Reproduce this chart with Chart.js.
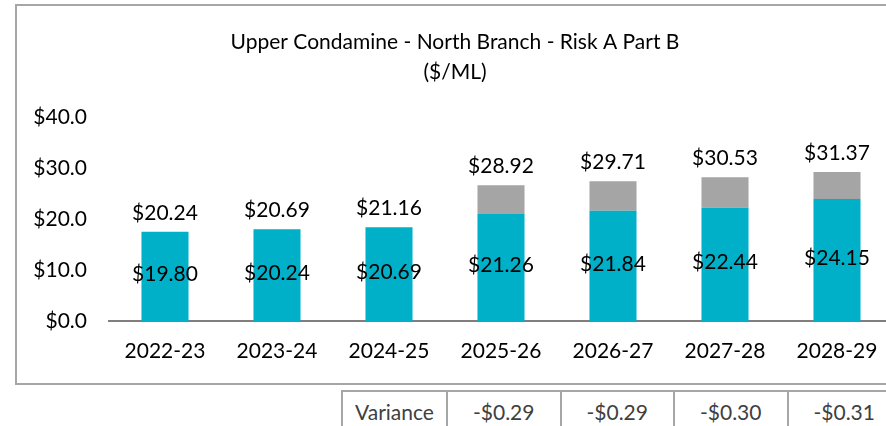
<!DOCTYPE html>
<html>
<head>
<meta charset="utf-8">
<script src="https://cdn.jsdelivr.net/npm/chart.js@4.4.0/dist/chart.umd.min.js"></script>
<style>
  body { margin: 0; overflow: hidden; background: #fff; font-family: Lato, sans-serif; }
  #box { position: absolute; left: 15px; top: 4px; width: 906px; height: 377px; border: 2px solid #a6a6a6; }
  #varTable { position: absolute; top: 390px; left: 341px; display: flex; }
  .cell { height: 40px; line-height: 40px; text-align: center; font-size: 21px; color: #404040;
          border-top: 2px solid #a6a6a6; border-left: 2px solid #a6a6a6; }
</style>
</head>
<body>
<div id="box"><canvas id="waterChart" width="906" height="377"></canvas></div>
<div id="varTable"></div>
<script>
const categories = ["2022-23", "2023-24", "2024-25", "2025-26", "2026-27", "2027-28", "2028-29"];
const baseValues = [17.5, 18.0, 18.4, 21.0, 21.6, 22.2, 23.9];
const extraValues = [0, 0, 0, 5.6, 5.8, 6.0, 5.3];
const topLabels = ["$20.24", "$20.69", "$21.16", "$28.92", "$29.71", "$30.53", "$31.37"];
const innerLabels = ["$19.80", "$20.24", "$20.69", "$21.26", "$21.84", "$22.44", "$24.15"];
const yTicks = [0, 10, 20, 30, 40];
const varianceYears = ["2025-26", "2026-27", "2027-28", "2028-29"];
const varianceValues = ["-$0.29", "-$0.29", "-$0.30", "-$0.31"];

// value labels on the bars
const barLabels = {
	id: "barLabels",
	afterDatasetsDraw(chart) {
		const ctx = chart.ctx;
		const base = chart.getDatasetMeta(0);
		const extra = chart.getDatasetMeta(1);
		ctx.save();
		ctx.font = "21px Lato";
		ctx.fillStyle = "#000";
		ctx.textAlign = "center";
		ctx.textBaseline = "middle";
		base.data.forEach(function(bar, i){
			ctx.fillText(innerLabels[i], bar.x, (bar.y + bar.base) / 2 - 2);
			let top = extraValues[i] > 0 ? extra.data[i].y : bar.y;
			ctx.fillText(topLabels[i], bar.x, top - 19);
		});
		ctx.restore();
	}
};

const chart = new Chart("waterChart", {
	type: "bar",
	data: {
		labels: categories,
		datasets: [
			{ data: baseValues, backgroundColor: "#00afc8" },
			{ data: extraValues, backgroundColor: "#a5a5a5" }
		]
	},
	options: {
		responsive: false,
		animation: false,
		categoryPercentage: 1,
		barPercentage: 0.42,
		layout: { padding: { left: 0, right: 30, top: 0, bottom: 12 } },
		plugins: {
			legend: { display: false },
			tooltip: { enabled: false },
			title: {
				display: true,
				text: ["Upper Condamine - North Branch - Risk A Part B", "($/ML)"],
				color: "#000",
				font: { family: "Lato", size: 21, weight: "normal", lineHeight: "30px" },
				padding: { top: 21, bottom: 30 }
			}
		},
		scales: {
			x: {
				stacked: true,
				grid: { display: false, drawTicks: false },
				border: { display: true, color: "#7f7f7f", width: 2 },
				ticks: { color: "#000", padding: 18, font: { family: "Lato", size: 21 } },
				afterFit: function(scale){ scale.height = 50; }
			},
			y: {
				stacked: true,
				min: 0,
				max: 40,
				grid: { display: false, drawTicks: false },
				border: { display: false },
				afterBuildTicks: function(scale){ scale.ticks = yTicks.map(v => ({ value: v })); },
				ticks: {
					color: "#000",
					padding: 22,
					font: { family: "Lato", size: 21 },
					callback: v => "$" + v.toFixed(1)
				},
				afterFit: function(scale){ scale.width = 92; }
			}
		}
	},
	plugins: [barLabels]
});

// variance table under the last four years
const table = document.getElementById("varTable");
let head = document.createElement("div");
head.className = "cell";
head.style.width = "103px";
head.textContent = "Variance";
table.appendChild(head);
varianceYears.forEach(function(yr, i){
	let c = document.createElement("div");
	c.className = "cell";
	c.style.width = "111.5px";
	c.textContent = varianceValues[i];
	table.appendChild(c);
});
</script>
</body>
</html>
